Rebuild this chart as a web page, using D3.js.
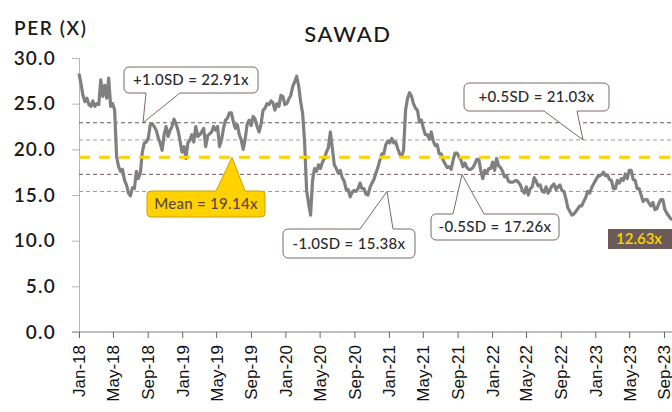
<!DOCTYPE html>
<html>
<head>
<meta charset="utf-8">
<script src="https://cdn.jsdelivr.net/npm/d3@7"></script>
<style>
  html, body { margin: 0; padding: 0; background: #fff; }
  svg { display: block; }
  .lbl { font-family: Lato, "Open Sans", sans-serif; }
</style>
</head>
<body>
<div id="chart"></div>
<script>
// weekly PER readings starting 1 Jan 2018
const startDate = new Date(2018, 0, 1);
const stepDays = 7;
const per2018 = [
  28.3, 27.2, 25.9, 25.2, 25.6, 24.9, 24.7, 25.3, 24.7, 25.0,
  24.9, 27.6, 25.8, 27.0, 25.6, 27.8, 24.7, 25.0, 24.3, 19.2,
  18.1, 17.6, 17.8, 16.6, 16.1, 15.2, 14.9, 15.8, 15.7, 17.6,
  16.8, 17.4, 19.7, 20.7, 20.8, 21.2, 22.7, 22.8, 22.5, 22.1,
  21.3, 20.7, 19.9, 21.6, 22.5, 21.4, 22.1, 22.5, 23.3
];
const per2019 = [
  22.8, 22.1, 21.0, 19.7, 20.3, 19.0, 20.7, 21.0, 21.6, 20.8,
  22.5, 21.4, 21.6, 21.9, 22.3, 20.3, 21.5, 21.7, 21.9, 22.5,
  22.1, 22.5, 20.3, 21.0, 22.3, 23.2, 23.4, 24.0, 24.0, 23.0,
  22.3, 22.7, 21.6, 21.0, 20.0, 21.2, 22.8, 23.2, 22.6, 23.6,
  23.3, 22.5, 21.9, 22.8, 24.3, 24.5, 25.0, 24.9, 25.3, 25.1
];
const per2020 = [
  24.3, 25.0, 24.7, 25.9, 25.8, 24.9, 25.0, 25.5, 25.9, 26.9,
  27.4, 28.0, 26.9, 25.2, 23.9, 20.7, 15.5, 14.1, 12.8, 16.6,
  17.9, 17.6, 18.3, 17.9, 18.6, 19.0, 19.7, 20.2, 21.9, 20.1,
  18.3, 17.9, 17.4, 17.7, 16.9, 16.5, 15.6, 15.6, 14.8, 15.3,
  15.5, 15.4, 15.7, 16.3, 15.7, 15.7, 15.1, 15.0, 15.8, 16.3
];
const per2021 = [
  16.7, 17.4, 18.0, 18.8, 19.5, 19.5, 20.5, 20.9, 20.7, 21.2,
  20.7, 20.8, 20.1, 19.5, 19.2, 19.9, 24.3, 25.6, 26.2, 25.8,
  25.0, 24.5, 24.3, 23.0, 23.2, 22.3, 21.6, 21.6, 21.1, 21.9,
  20.9, 20.4, 20.5, 19.5, 19.5, 18.8, 18.4, 18.0, 18.1, 17.8,
  18.8, 19.6, 19.6, 19.2, 18.8, 18.1, 18.5, 18.0, 17.8
];
const per2022 = [
  17.8, 18.0, 18.4, 18.9, 18.9, 17.7, 16.8, 17.7, 17.4, 17.9,
  17.9, 18.6, 17.7, 19.0, 18.2, 18.0, 17.6, 17.0, 17.1, 16.5,
  16.4, 16.4, 16.5, 16.6, 16.4, 16.1, 15.5, 15.2, 15.9, 15.0,
  15.7, 15.9, 16.9, 16.5, 16.0, 16.1, 15.4, 15.3, 15.9, 15.2,
  15.6, 16.0, 16.2, 15.6, 15.9, 16.1, 15.5, 15.4, 14.6, 13.6
];
const per2023 = [
  13.2, 12.8, 12.9, 13.2, 13.5, 13.8, 13.8, 14.3, 14.7, 15.4,
  15.2, 15.8, 16.2, 16.6, 17.0, 17.1, 17.2, 17.5, 17.1, 17.2,
  16.7, 16.6, 15.7, 15.7, 16.6, 16.3, 16.8, 16.6, 17.3, 16.8,
  17.7, 17.7, 16.7, 16.6, 15.7, 15.7, 15.0, 14.3, 14.5, 14.5,
  14.1, 13.8, 14.2, 13.4, 13.5, 14.1, 14.5, 14.5, 13.4, 13.0,
  12.7, 12.4, 12.3
];
const perValues = [].concat(per2018, per2019, per2020, per2021, per2022, per2023);

const meanValue = 19.14;
const sdLevels = [22.91, 21.03, 17.26, 15.38];
const sdNames = ["+1.0SD", "+0.5SD", "-0.5SD", "-1.0SD"];
const lastValue = 12.63;

const xTickLabels = [
  "Jan-18", "May-18", "Sep-18", "Jan-19", "May-19", "Sep-19",
  "Jan-20", "May-20", "Sep-20", "Jan-21", "May-21", "Sep-21",
  "Jan-22", "May-22", "Sep-22", "Jan-23", "May-23", "Sep-23"
];
const yTicks = [0, 5, 10, 15, 20, 25, 30];

const W = 672, H = 412;
const parseTick = d3.timeParse("%b-%y");

const points = perValues.map((v, i) => ({
  date: d3.timeDay.offset(startDate, i * stepDays),
  value: v
}));

const x = d3.scaleTime()
  .domain([parseTick("Jan-18"), parseTick("Sep-23")])
  .range([79, 664]);

const y = d3.scaleLinear()
  .domain([0, 30])
  .range([332, 58]);

const svg = d3.select("#chart").append("svg")
  .attr("width", W)
  .attr("height", H);

// titles
svg.append("text").attr("class", "lbl")
  .attr("x", 14).attr("y", 35)
  .attr("font-size", 19).attr("font-weight", 600)
  .attr("letter-spacing", 1.6)
  .attr("fill", "#1a1a1a")
  .text("PER (X)");

svg.append("text").attr("class", "lbl")
  .attr("x", 348).attr("y", 42)
  .attr("text-anchor", "middle")
  .attr("font-size", 22).attr("font-weight", 500)
  .attr("letter-spacing", 1.6)
  .attr("fill", "#1a1a1a")
  .text("SAWAD");

// y axis
const yAxis = svg.append("g")
  .attr("transform", "translate(79,0)")
  .call(d3.axisLeft(y).tickValues(yTicks).tickSize(7).tickFormat(d3.format(".1f")));
yAxis.select(".domain").attr("stroke", "#b5b5b5");
yAxis.selectAll(".tick line").attr("stroke", "#b5b5b5");
yAxis.selectAll(".tick text")
  .attr("class", "lbl")
  .attr("x", -23)
  .attr("font-size", 19).attr("font-weight", 600)
  .attr("letter-spacing", 1.2)
  .attr("fill", "#1a1a1a");

// x axis
const xAxis = svg.append("g")
  .attr("transform", "translate(0,332)")
  .call(d3.axisBottom(x)
    .tickValues(xTickLabels.map(parseTick))
    .tickSize(6)
    .tickFormat(d3.timeFormat("%b-%y")));
xAxis.select(".domain").attr("stroke", "#a8a8a8").attr("stroke-width", 1.5)
  .attr("d", "M72,0H" + W);
xAxis.selectAll(".tick line").attr("stroke", "#666");
xAxis.selectAll(".tick text")
  .attr("font-family", "'Liberation Sans', Arial, sans-serif")
  .attr("font-size", 17)
  .attr("fill", "#111")
  .attr("transform", "rotate(-90)")
  .attr("text-anchor", "end")
  .attr("x", -13)
  .attr("y", 0)
  .attr("dy", "0.35em");

// SD bands
svg.append("g").selectAll("line")
  .data(sdLevels)
  .join("line")
  .attr("x1", 79).attr("x2", W)
  .attr("y1", d => y(d)).attr("y2", d => y(d))
  .attr("stroke", (d, i) => (i === 0 || i === 2) ? "#6e5a58" : "#a39a98")
  .attr("stroke-width", 1)
  .attr("stroke-dasharray", "4,3");

// PER line
svg.append("path")
  .datum(points)
  .attr("fill", "none")
  .attr("stroke", "#808080")
  .attr("stroke-width", 3.2)
  .attr("stroke-linejoin", "round")
  .attr("d", d3.line().x(d => x(d.date)).y(d => y(d.value)));

// mean
svg.append("line")
  .attr("x1", 79).attr("x2", W)
  .attr("y1", y(meanValue)).attr("y2", y(meanValue))
  .attr("stroke", "#ffd200")
  .attr("stroke-width", 3)
  .attr("stroke-dasharray", "11,9");

// callouts
function calloutPath(b) {
  const { x: bx, y: by, w, h, r, side, base, tip } = b;
  const p = d3.path();
  p.moveTo(bx + r, by);
  if (side === "top") {
    p.lineTo(base[0], by); p.lineTo(tip[0], tip[1]); p.lineTo(base[1], by);
  }
  p.lineTo(bx + w - r, by);
  p.arcTo(bx + w, by, bx + w, by + r, r);
  p.lineTo(bx + w, by + h - r);
  p.arcTo(bx + w, by + h, bx + w - r, by + h, r);
  if (side === "bottom") {
    p.lineTo(base[1], by + h); p.lineTo(tip[0], tip[1]); p.lineTo(base[0], by + h);
  }
  p.lineTo(bx + r, by + h);
  p.arcTo(bx, by + h, bx, by + h - r, r);
  p.lineTo(bx, by + r);
  p.arcTo(bx, by, bx + r, by, r);
  p.closePath();
  return p.toString();
}

const fmt = d3.format(".2f");
const callouts = [
  { text: `${sdNames[0]} = ${fmt(sdLevels[0])}x`, x: 124, y: 67, w: 134, h: 26, r: 5,
    side: "bottom", base: [146, 180], tip: [143, y(sdLevels[0])] },
  { text: `${sdNames[1]} = ${fmt(sdLevels[1])}x`, x: 464, y: 83, w: 145, h: 28, r: 5,
    side: "bottom", base: [544, 577], tip: [583, y(sdLevels[1])] },
  { text: `${sdNames[3]} = ${fmt(sdLevels[3])}x`, x: 283, y: 229, w: 132, h: 29, r: 5,
    side: "top", base: [360, 393], tip: [387, y(sdLevels[3])] },
  { text: `${sdNames[2]} = ${fmt(sdLevels[2])}x`, x: 431, y: 214, w: 128, h: 26, r: 5,
    side: "top", base: [453, 484], tip: [462, y(sdLevels[2])] },
  { text: `Mean = ${fmt(meanValue)}x`, x: 147, y: 191, w: 118, h: 26, r: 4,
    side: "top", base: [216, 245], tip: [232, y(meanValue)], mean: true }
];

const cg = svg.append("g").selectAll("g")
  .data(callouts)
  .join("g");

cg.append("path")
  .attr("d", d => calloutPath(d))
  .attr("fill", d => d.mean ? "#ffd200" : "#fff")
  .attr("stroke", d => d.mean ? "#caa200" : "#7b6a66")
  .attr("stroke-width", 1);

cg.append("text")
  .attr("class", "lbl")
  .attr("x", d => d.x + d.w / 2)
  .attr("y", d => d.y + d.h / 2)
  .attr("dy", "0.36em")
  .attr("text-anchor", "middle")
  .attr("font-size", 15)
  .attr("font-weight", 500)
  .attr("letter-spacing", 0.3)
  .attr("fill", d => d.mean ? "#5b4a40" : "#2b2b2b")
  .text(d => d.text);

// last value tag
svg.append("rect")
  .attr("x", 608).attr("y", 229)
  .attr("width", 70).attr("height", 20)
  .attr("fill", "#6b5b58");
svg.append("text")
  .attr("class", "lbl")
  .attr("x", 616).attr("y", 239)
  .attr("dy", "0.36em")
  .attr("font-size", 15).attr("font-weight", 600)
  .attr("fill", "#ffd200")
  .text(`${fmt(lastValue)}x`);
</script>
</body>
</html>
